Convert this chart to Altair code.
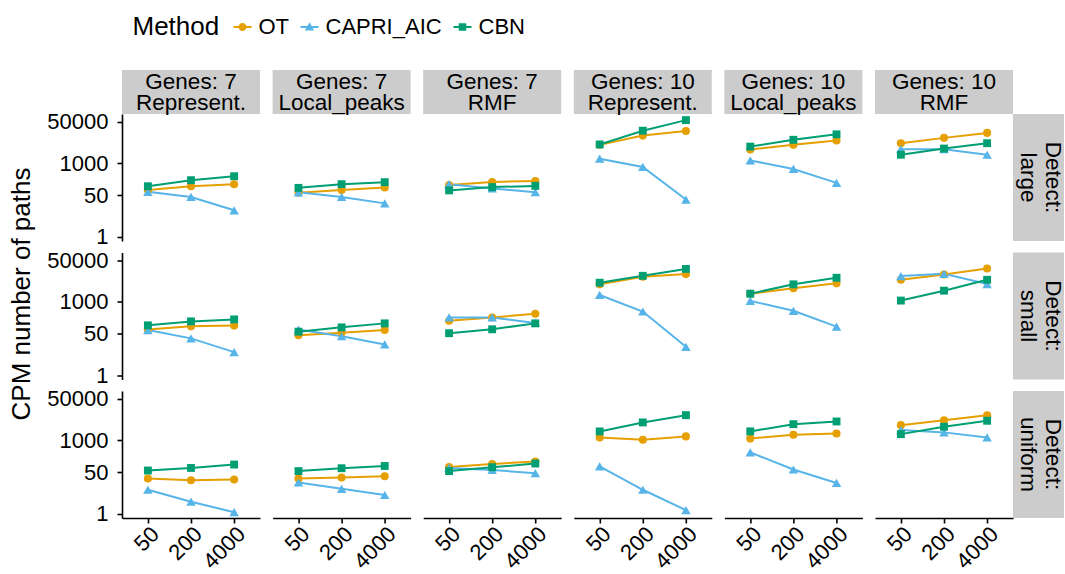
import altair as alt
import pandas as pd

FONT = "Liberation Sans"

# Facet levels
detect_levels = ["large", "small", "uniform"]
genes_levels = [7, 7, 7, 10, 10, 10]
landscape_levels = ["Represent.", "Local_peaks", "RMF", "Represent.", "Local_peaks", "RMF"]
sample_sizes = ["50", "200", "4000"]
methods = ["OT", "CAPRI_AIC", "CBN"]
method_colors = ["#E69F00", "#56B4E9", "#009E73"]
method_shapes = ["circle", "triangle-up", "square"]
method_sizes = [65, 90, 62]
y_ticks = [1, 50, 1000, 50000]

# Number of paths; one [50, 200, 4000] triple per panel column
# (Genes 7: Represent., Local_peaks, RMF, then Genes 10: Represent., Local_peaks, RMF)
ot_large = [[80, 115, 140], [62, 80, 103], [128, 173, 190],
            [5650, 13500, 20900], [3650, 5650, 8500], [6600, 10900, 17400]]
capri_large = [[68, 42, 12], [65, 42, 23], [140, 94, 66],
               [1540, 705, 33], [1310, 585, 158], [3750, 3750, 2230]]
cbn_large = [[115, 204, 295], [99, 140, 169], [78, 106, 119],
             [5860, 21400, 58000], [4800, 9100, 15200], [2230, 4000, 6600]]

ot_small = [[73, 99, 106], [43, 54, 71], [168, 229, 324],
            [5150, 10500, 13500], [2140, 3550, 5650], [7900, 13100, 23000]]
capri_small = [[70, 32, 8.8], [73, 39, 18], [229, 229, 136],
               [1900, 400, 14.5], [1090, 427, 96], [11200, 13800, 5300]]
cbn_small = [[109, 158, 190], [60, 90, 131], [52, 75, 131],
             [6000, 11500, 22000], [2140, 5150, 9550], [1120, 2840, 7900]]

ot_uniform = [[27.5, 23.4, 25], [27.5, 30, 34], [81, 108, 135],
              [1310, 1050, 1440], [1170, 1690, 1900], [4150, 6600, 10600]]
capri_uniform = [[9.5, 3.1, 1.15], [19, 10.4, 5.8], [74, 61, 45],
                 [85, 9.5, 1.4], [320, 64, 18], [2600, 2100, 1310]]
cbn_uniform = [[58, 74, 102], [55, 72, 89], [55, 79, 112],
               [2300, 5350, 10600], [2300, 4550, 5860], [1780, 3570, 6270]]

series = {
    "large": [ot_large, capri_large, cbn_large],
    "small": [ot_small, capri_small, cbn_small],
    "uniform": [ot_uniform, capri_uniform, cbn_uniform],
}

records = []
for det in detect_levels:
    for m, method in enumerate(methods):
        for c in range(6):
            for s, size in enumerate(sample_sizes):
                records.append({
                    "Detect": det, "Col": c, "Size": size, "Method": method,
                    "Paths": series[det][m][c][s],
                    "ColLabel": f"Genes: {genes_levels[c]}\n{landscape_levels[c]}",
                    "RowLabel": f"Detect:\n{det}",
                })
df = pd.DataFrame(records)

PANEL_W, PANEL_H = 138, 127
STRIP_H, STRIP_W = 44, 51
COL_GAP, ROW_GAP = 12.6, 11.5
Y_DOMAIN = [0.667, 103000]

# Legend glyphs: a short line with the method's marker on it
glyph_circle = "M-1,-0.11H1V0.11H-1Z M0.44,0A0.44,0.44,0,1,1,-0.44,0A0.44,0.44,0,1,1,0.44,0Z"
glyph_triangle = "M-1,-0.11H1V0.11H-1Z M0,-0.52L0.52,0.4L-0.52,0.4Z"
glyph_square = "M-1,-0.11H1V0.11H-1Z M-0.42,-0.42H0.42V0.42H-0.42Z"

legend = alt.Legend(
    title="Method", orient="none", legendX=10.5, legendY=-98, direction="horizontal",
    titleOrient="left", titleFontSize=26, titleFontWeight="normal", titleColor="black",
    titleFont=FONT, titlePadding=12, titleBaseline="middle",
    labelFontSize=22, labelFont=FONT, labelColor="black", labelOffset=5,
    symbolSize=324, symbolStrokeWidth=0, symbolOpacity=1, columnPadding=9, padding=0,
)

color_scale = alt.Scale(domain=methods, range=method_colors)
color = alt.Color("Method:N", scale=color_scale)

x = alt.X("Size:N", sort=sample_sizes,
          scale=alt.Scale(type="point", padding=0.6, domain=sample_sizes),
          axis=alt.Axis(labelAngle=315, labelAlign="right", labelBaseline="top",
                        labelPadding=0),
          title=None)
y = alt.Y("Paths:Q", scale=alt.Scale(type="log", domain=Y_DOMAIN, nice=False),
          axis=alt.Axis(values=y_ticks, format="d", labelOverlap=False, labelPadding=9),
          title=None)

base = alt.Chart()

layers = [base.mark_line(strokeWidth=2).encode(x=x, y=y, color=color, detail="Method:N")]
for method, shape, msize in zip(methods, method_shapes, method_sizes):
    layers.append(
        base.transform_filter(alt.datum.Method == method)
        .mark_point(filled=True, size=msize, opacity=1, shape=shape)
        .encode(x=x, y=y, color=color)
    )

# Invisible carrier that owns the legend (line + marker glyphs)
layers.append(
    base.transform_filter(alt.datum.Size == sample_sizes[0])
    .mark_point(filled=True, size=0)
    .encode(
        x=x, y=y,
        color=alt.Color("Method:N", scale=color_scale, legend=legend),
        shape=alt.Shape("Method:N",
                        scale=alt.Scale(domain=methods,
                                        range=[glyph_circle, glyph_triangle, glyph_square]),
                        legend=legend),
    )
)

# Grey strip above each panel of the first row
top_strip = base.transform_filter(
    (alt.datum.Detect == detect_levels[0]) & (alt.datum.Size == sample_sizes[0])
    & (alt.datum.Method == methods[0])
)
layers.append(top_strip.mark_rect(color="#cccccc").encode(
    x=alt.value(0), x2=alt.value(PANEL_W), y=alt.value(-STRIP_H), y2=alt.value(0)))
layers.append(top_strip.mark_text(font=FONT, fontSize=22.5, color="black", lineBreak="\n",
                                  lineHeight=21.5, baseline="middle", align="center").encode(
    x=alt.value(PANEL_W / 2), y=alt.value(-STRIP_H + 11.5), text="ColLabel:N"))

# Grey strip right of each panel of the last column
side_strip = base.transform_filter(
    (alt.datum.Col == 5) & (alt.datum.Size == sample_sizes[0])
    & (alt.datum.Method == methods[0])
)
layers.append(side_strip.mark_rect(color="#cccccc").encode(
    x=alt.value(PANEL_W), x2=alt.value(PANEL_W + STRIP_W), y=alt.value(0),
    y2=alt.value(PANEL_H)))
layers.append(side_strip.mark_text(font=FONT, fontSize=22.5, color="black", lineBreak="\n",
                                   lineHeight=25, baseline="middle", align="center",
                                   angle=90).encode(
    x=alt.value(PANEL_W + 40), y=alt.value(PANEL_H / 2), text="RowLabel:N"))

chart = alt.layer(*layers, data=df).properties(
    width=PANEL_W, height=PANEL_H
).facet(
    row=alt.Row("Detect:N", sort=detect_levels,
                header=alt.Header(labels=False, title="CPM number of paths",
                                  titleOrient="left", titleFont=FONT, titleFontSize=26,
                                  titleFontWeight="normal", titleColor="black",
                                  titlePadding=1)),
    column=alt.Column("Col:O", header=alt.Header(labels=False, title=None)),
    spacing={"row": ROW_GAP, "column": COL_GAP},
    bounds="flush",
).properties(
    padding={"left": 8, "top": 16, "right": 0, "bottom": 0}
).configure_view(
    stroke="transparent"
).configure_axis(
    grid=False, domainColor="black", domainWidth=1.6, tickColor="black", tickWidth=1.6,
    tickSize=5, labelColor="black", labelFont=FONT, labelFontSize=22,
)

chart.save("out.html", embed_options={"renderer": "svg", "actions": False})
